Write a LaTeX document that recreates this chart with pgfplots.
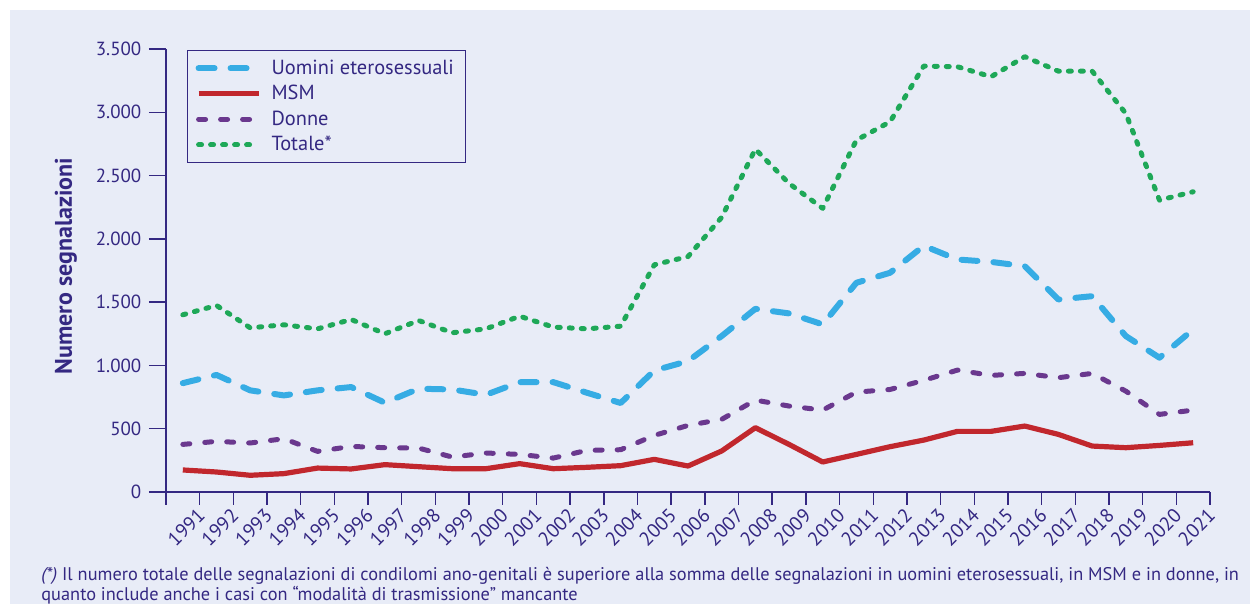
\documentclass[border=0pt]{standalone}
\usepackage{fontspec}
\setmainfont{PT Sans}
\usepackage{pgfplots}
\pgfplotsset{compat=1.18}
\definecolor{ink}{RGB}{52,40,130}
\definecolor{bg}{RGB}{232,236,247}
\definecolor{cblue}{RGB}{54,172,228}
\definecolor{cred}{RGB}{193,39,45}
\definecolor{cpurple}{RGB}{106,56,142}
\definecolor{cgreen}{RGB}{30,168,88}

\pgfplotstableread{
x uomini msm donne totale
0.5 860 174 376 1400
1.5 925 158 400 1474
2.5 803 132 387 1297
3.5 763 145 421 1321
4.5 803 189 321 1289
5.5 829 182 360 1363
6.5 705 216 350 1250
7.5 816 200 347 1355
8.5 810 184 276 1258
9.5 768 184 308 1289
10.5 868 224 297 1389
11.5 868 184 268 1303
12.5 784 195 329 1289
13.5 703 208 334 1310
14.5 960 258 447 1795
15.5 1034 205 526 1860
16.5 1232 324 574 2170
17.5 1447 508 726 2709
18.5 1411 376 679 2438
19.5 1324 237 647 2241
20.5 1653 297 789 2780
21.5 1732 358 810 2925
22.5 1945 410 882 3365
23.5 1837 479 963 3360
24.5 1818 479 921 3281
25.5 1784 521 937 3439
26.5 1521 455 903 3325
27.5 1547 363 937 3325
28.5 1232 350 797 2991
29.5 1061 368 613 2306
30.5 1284 389 647 2372
}\datatable

\begin{document}
\begin{tikzpicture}
\useasboundingbox (-83pt,-58.5pt) rectangle (542pt,246pt);
\fill[bg] (-78pt,-56pt) rectangle (542pt,241pt);
\begin{axis}[
  at={(0pt,0pt)}, anchor=south west,
  scale only axis, width=522pt, height=221.5pt,
  xmin=0, xmax=31, ymin=0, ymax=3500,
  axis x line*=bottom, axis y line*=left,
  axis line style={ink, line width=0.7pt, -},
  every tick/.style={ink, line width=0.7pt},
  tick align=outside,
  xtick={0,1,...,31},
  xticklabels={,1991,1992,1993,1994,1995,1996,1997,1998,1999,2000,2001,2002,2003,2004,2005,2006,2007,2008,2009,2010,2011,2012,2013,2014,2015,2016,2017,2018,2019,2020,2021},
  major tick length=6.5pt,
  ytick={0,500,...,3500},
  minor ytick={0,500,...,3500},
  minor tick length=8.5pt,
  /pgf/number format/.cd, 1000 sep={.}, assume math mode=true,
  /pgfplots/.cd,
  tick label style={font=\fontsize{9.5}{11}\selectfont, text=ink},
  xticklabel style={rotate=45, anchor=north east, inner sep=0pt, xshift=-1.8pt, yshift=0.6pt, font=\fontsize{9.8}{11}\selectfont},
  yticklabel style={xshift=-2.3pt},
  ylabel={\bfseries Numero segnalazioni},
  ylabel style={at={(axis description cs:-0.0958,0.51)}, anchor=center, font=\fontsize{12}{14}\selectfont, text=ink},
  legend style={at={(axis description cs:0.0201,0.9977)}, anchor=north west, draw=ink, line width=0.6pt, fill=bg,
    font=\fontsize{10.2}{12}\selectfont, text=ink, inner xsep=4pt, inner ysep=2.5pt, row sep=0pt,
    /tikz/every odd column/.append style={column sep=3pt}},
  legend cell align=left,
  legend image code/.code={\draw[#1] (0pt,0pt) -- (30pt,0pt);},
  clip=false,
]
\addplot[cblue, line width=3pt, dash pattern=on 8pt off 8pt, line cap=round, line join=round] table[x=x,y=uomini] {\datatable};
\addlegendentry{Uomini eterosessuali}
\addplot[cred, line width=2.6pt, line join=round] table[x=x,y=msm] {\datatable};
\addlegendentry{MSM}
\addplot[cpurple, line width=2.5pt, dash pattern=on 3.5pt off 7.5pt, line cap=round, line join=round] table[x=x,y=donne] {\datatable};
\addlegendentry{Donne}
\addplot[cgreen, line width=2.5pt, dash pattern=on 1.5pt off 4.5pt, line cap=round, line join=round] table[x=x,y=totale] {\datatable};
\addlegendentry{Totale*}
\end{axis}
\node[anchor=base west, inner sep=0pt, text=ink, font=\fontsize{9.17}{11}\selectfont] at (-62.5pt,-44.5pt) {\textit{(*)} Il numero totale delle segnalazioni di condilomi ano-genitali è superiore alla somma delle segnalazioni in uomini eterosessuali, in MSM e in donne, in};
\node[anchor=base west, inner sep=0pt, text=ink, font=\fontsize{9.17}{11}\selectfont] at (-62.5pt,-54.3pt) {quanto include anche i casi con “modalità di trasmissione” mancante};
\end{tikzpicture}
\end{document}
